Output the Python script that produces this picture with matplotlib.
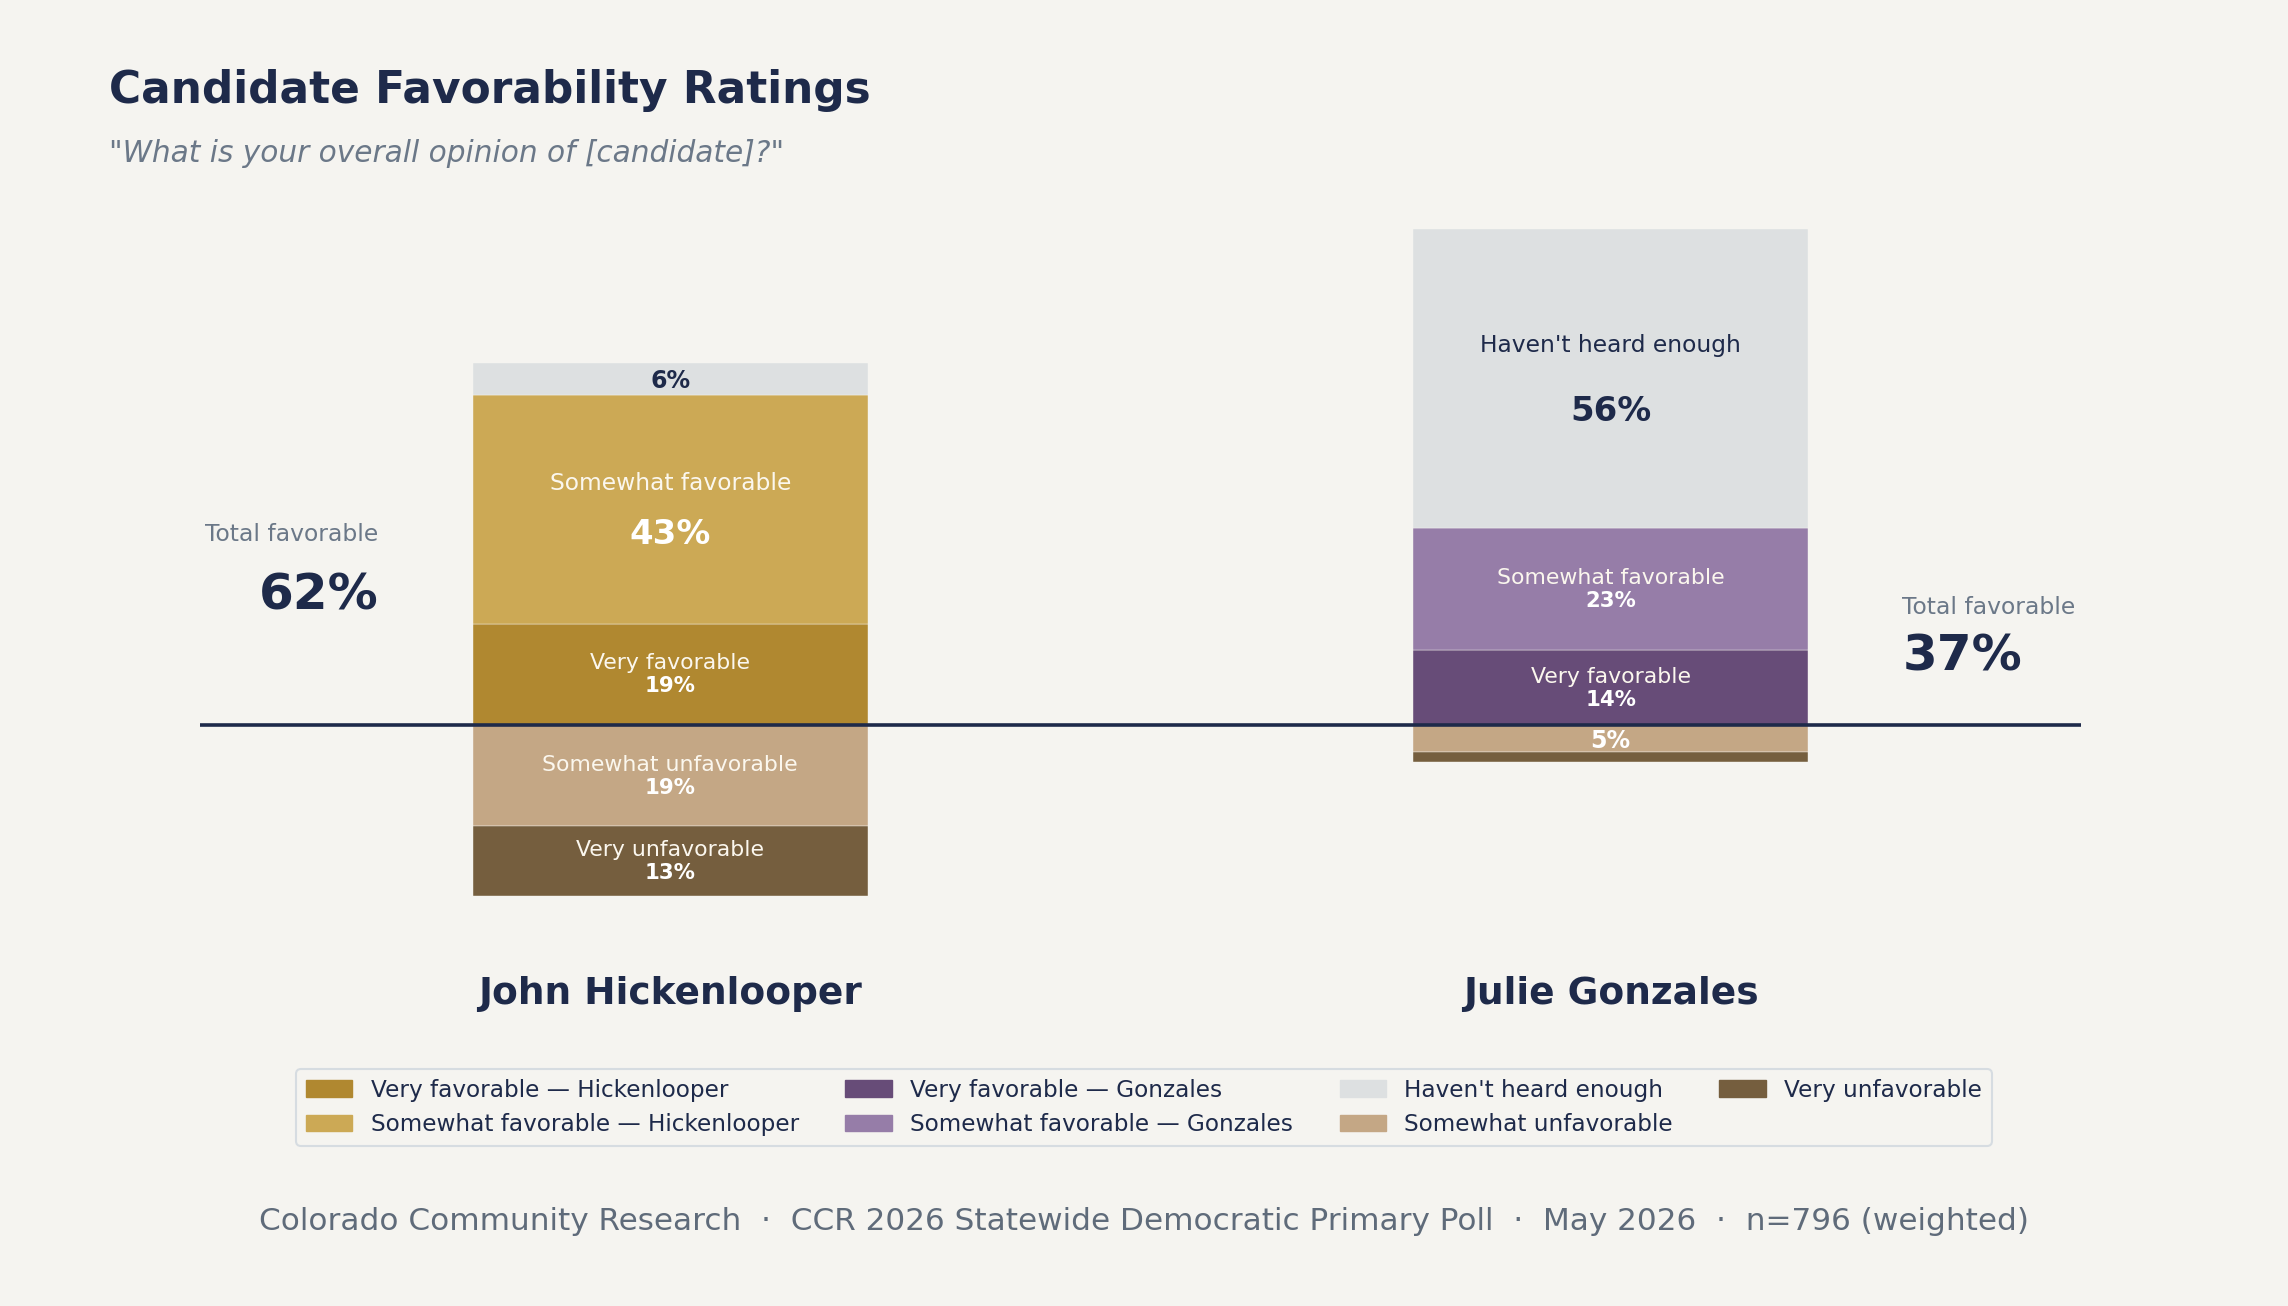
import matplotlib
matplotlib.use("Agg")
import matplotlib.pyplot as plt
from matplotlib.patches import Patch

# poll data (percent)
candidates = ["John Hickenlooper", "Julie Gonzales"]
short_names = ["Hickenlooper", "Gonzales"]
very_fav = [19, 14]
somewhat_fav = [43, 23]
not_heard = [6, 56]
somewhat_unfav = [19, 5]
very_unfav = [13, 2]

BG = "#f5f4f0"
NAVY = "#1e2a4a"
GREY = "#6b7888"
fav_colors = [("#b08830", "#cca955"), ("#674c78", "#967da8")]
c_heard = "#dde0e1"
c_sunfav = "#c4a785"
c_vunfav = "#755e3e"
LIGHT = "#fbf7ee"

fig = plt.figure(figsize=(22.88, 13.06), dpi=100, facecolor=BG)
ax = fig.add_axes([0.0874, 0.2611, 0.8221, 0.5919])
ax.set_facecolor(BG)
ax.set_xlim(-0.5, 1.5)
ax.set_ylim(-45, 100)
ax.axis("off")

width = 0.42


def seg_label(x, bottom, h, name, color, pct_color=None):
    pct_color = pct_color or color
    mid = bottom + h / 2
    if h >= 30:
        ax.text(x, mid + 0.11 * h, name, ha="center", va="center", fontsize=16.8, color=color)
        ax.text(x, mid - 0.11 * h, f"{h}%", ha="center", va="center", fontsize=24.4,
                fontweight="bold", color=pct_color)
    elif h >= 10:
        ax.annotate(name, (x, mid), xytext=(0, 8), textcoords="offset points",
                    ha="center", va="center", fontsize=15.8, color=color)
        ax.annotate(f"{h}%", (x, mid), xytext=(0, -8.5), textcoords="offset points",
                    ha="center", va="center", fontsize=15.3, fontweight="bold", color=pct_color)
    elif h >= 4:
        ax.text(x, mid - 0.4, f"{h}%", ha="center", va="center", fontsize=17,
                fontweight="bold", color=pct_color)


for i in range(len(candidates)):
    c_vf, c_sf = fav_colors[i]
    kw = dict(width=width, edgecolor=BG, linewidth=0.3)
    ax.bar(i, very_fav[i], bottom=0, color=c_vf, **kw)
    ax.bar(i, somewhat_fav[i], bottom=very_fav[i], color=c_sf, **kw)
    top = very_fav[i] + somewhat_fav[i]
    ax.bar(i, not_heard[i], bottom=top, color=c_heard, **kw)
    ax.bar(i, -somewhat_unfav[i], bottom=0, color=c_sunfav, **kw)
    ax.bar(i, -very_unfav[i], bottom=-somewhat_unfav[i], color=c_vunfav, **kw)

    seg_label(i, 0, very_fav[i], "Very favorable", LIGHT, "white")
    seg_label(i, very_fav[i], somewhat_fav[i], "Somewhat favorable", LIGHT, "white")
    seg_label(i, top, not_heard[i], "Haven't heard enough", NAVY)
    seg_label(i, -somewhat_unfav[i], somewhat_unfav[i], "Somewhat unfavorable", LIGHT, "white")
    seg_label(i, -somewhat_unfav[i] - very_unfav[i], very_unfav[i], "Very unfavorable", LIGHT, "white")

    ax.text(i, -52.3, candidates[i], ha="center", va="baseline", fontsize=27,
            fontweight="bold", color=NAVY)

# total favorable callouts, left of first bar, right of second
totals = [very_fav[i] + somewhat_fav[i] for i in range(len(candidates))]
label_y = [35.8, 22.1]
value_y = [24.4, 12.8]
for i, t in enumerate(totals):
    if i == 0:
        x, ha = i - width / 2 - 0.1, "right"
    else:
        x, ha = i + width / 2 + 0.1, "left"
    ax.text(x, label_y[i], "Total favorable", ha=ha, va="center", fontsize=16.9, color=GREY)
    ax.text(x, value_y[i], f"{t}%", ha=ha, va="center", fontsize=36,
            fontweight="bold", color=NAVY)

ax.axhline(0, color=NAVY, linewidth=2.6, zorder=5)

fig.text(0.0477, 0.9215, "Candidate Favorability Ratings", fontsize=31.6,
         fontweight="bold", color=NAVY, va="baseline")
fig.text(0.0477, 0.876, '"What is your overall opinion of [candidate]?"', fontsize=21.3,
         style="italic", color=GREY, va="baseline")

handles = [
    Patch(color=fav_colors[0][0], label=f"Very favorable \u2014 {short_names[0]}"),
    Patch(color=fav_colors[0][1], label=f"Somewhat favorable \u2014 {short_names[0]}"),
    Patch(color=fav_colors[1][0], label=f"Very favorable \u2014 {short_names[1]}"),
    Patch(color=fav_colors[1][1], label=f"Somewhat favorable \u2014 {short_names[1]}"),
    Patch(color=c_heard, label="Haven't heard enough"),
    Patch(color=c_sunfav, label="Somewhat unfavorable"),
    Patch(color=c_vunfav, label="Very unfavorable"),
]
leg = fig.legend(handles=handles, loc="center", bbox_to_anchor=(0.5, 0.152), ncol=4,
                 fontsize=16.7, frameon=True, facecolor=BG, edgecolor="#cfd6de",
                 labelcolor=NAVY, borderpad=0.4)
leg.get_frame().set_linewidth(1.5)

fig.text(0.5, 0.065,
         "Colorado Community Research  \u00b7  CCR 2026 Statewide Democratic Primary Poll"
         "  \u00b7  May 2026  \u00b7  n=796 (weighted)",
         ha="center", va="center", fontsize=22.4, color="#5f6b7a")

fig.savefig("out.png", dpi=100, facecolor=BG)
